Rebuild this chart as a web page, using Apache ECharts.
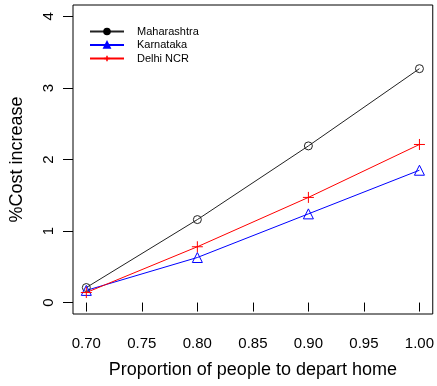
<!DOCTYPE html>
<html><head><meta charset="utf-8">
<script src="https://cdn.jsdelivr.net/npm/echarts@6/dist/echarts.min.js"></script>
<style>html,body{margin:0;padding:0;background:#fff}#c{width:437px;height:386px}</style>
</head><body><div id="c"></div>
<script>
const proportions = [0.70, 0.80, 0.90, 1.00];
const maharashtra = [0.21, 1.16, 2.19, 3.27];
const karnataka = [0.17, 0.63, 1.24, 1.85];
const delhi = [0.14, 0.78, 1.47, 2.21];
const xTicks = [0.70, 0.75, 0.80, 0.85, 0.90, 0.95, 1.00];
const yTicks = [0, 1, 2, 3, 4];

const font = 'Liberation Sans, Arial, Helvetica, sans-serif';
const plusPath = 'path://M-1,0L1,0M0,-1L0,1';
const clear = 'rgba(255,255,255,0)';

function pts(arr){ return proportions.map((x,i)=>[x,arr[i]]); }

const chart = echarts.init(document.getElementById('c'), null, {renderer:'canvas'});
chart.setOption({
  animation:false,
  backgroundColor:'#fff',
  grid:{left:72, right:2, top:5, bottom:72, show:true, borderColor:'#000', borderWidth:1, backgroundColor:'transparent'},
  legend:{
    left:89, top:26, padding:0, orient:'vertical', itemWidth:34, itemHeight:7, itemGap:2.5,
    textStyle:{fontFamily:font, fontSize:11, color:'#000', padding:[0,0,0,8]},
    lineStyle:{width:2},
    data:[
      {name:'Maharashtra', itemStyle:{color:'#000', borderColor:'#000'}},
      {name:'Karnataka', itemStyle:{color:'#0000ff', borderColor:'#0000ff'}},
      {name:'Delhi NCR', itemStyle:{color:'#ff0000', borderColor:'#ff0000', borderWidth:1.5}}
    ]
  },
  xAxis:{
    type:'value', min:0.688, max:1.012,
    axisLine:{show:false},
    splitLine:{show:false},
    axisTick:{show:true, inside:false, length:9, customValues:xTicks, lineStyle:{color:'#000'}},
    axisLabel:{customValues:xTicks, margin:22, fontFamily:font, fontSize:15, color:'#000',
      formatter:v=>v.toFixed(2)},
    name:'Proportion of people to depart home', nameLocation:'middle', nameGap:47,
    nameTextStyle:{fontFamily:font, fontSize:18, color:'#000'}
  },
  yAxis:{
    type:'value', min:-0.16, max:4.16,
    axisLine:{show:false},
    splitLine:{show:false},
    axisTick:{show:true, inside:false, length:10, customValues:yTicks, lineStyle:{color:'#000'}},
    axisLabel:{customValues:yTicks, margin:17, rotate:90, fontFamily:font, fontSize:15, color:'#000'},
    name:'%Cost increase', nameLocation:'middle', nameGap:47,
    nameTextStyle:{fontFamily:font, fontSize:18, color:'#000'}
  },
  series:[
    {name:'Maharashtra', type:'line', data:pts(maharashtra), symbol:'circle', symbolSize:8,
      lineStyle:{color:'#222', width:1}, itemStyle:{color:clear, borderColor:'#222', borderWidth:1}},
    {name:'Karnataka', type:'line', data:pts(karnataka), symbol:'triangle', symbolSize:10,
      lineStyle:{color:'#0000ff', width:1}, itemStyle:{color:clear, borderColor:'#0000ff', borderWidth:1}},
    {name:'Delhi NCR', type:'line', data:pts(delhi), symbol:plusPath, symbolSize:11,
      lineStyle:{color:'#ff0000', width:1}, itemStyle:{color:'#ff0000', borderColor:'#ff0000', borderWidth:1}}
  ]
});
</script></body></html>
